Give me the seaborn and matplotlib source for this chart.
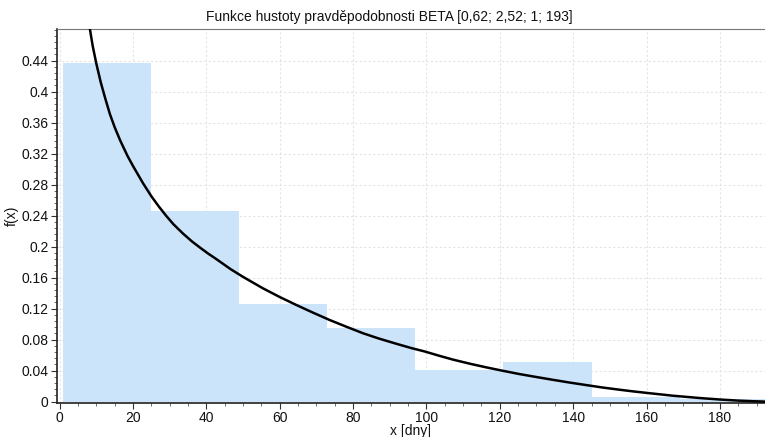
import numpy as np
import pandas as pd
import matplotlib
matplotlib.use("Agg")
import matplotlib.pyplot as plt
from matplotlib.ticker import FixedLocator, MultipleLocator
import seaborn as sns

# ---- data ----
bin_edges = [1, 25, 49, 73, 97, 121, 145, 169, 193]
bar_heights = [0.4366, 0.246, 0.1257, 0.0955, 0.0409, 0.0508, 0.0057, 0.0035]

curve_x = [8.2, 9.0, 10.0, 11.2, 12.5, 13.7, 15.0, 16.5, 18.5, 20.0, 22.7, 25.0,
           27.0, 29.0, 31.0, 33.6, 36.0, 38.2, 40.5, 42.7, 46.6, 50.0, 55.4,
           60.0, 64.5, 69.0, 73.6, 78.0, 82.7, 87.0, 91.8, 96.0, 99.5, 103.5,
           107.3, 112.0, 116.4, 121.0, 125.4, 130.0, 134.5, 139.0, 143.6, 148.0,
           152.7, 156.5, 160.9, 167.0, 174.5, 180.0, 185.0, 189.0, 193.0]
curve_y = [0.482, 0.459, 0.436, 0.412, 0.390, 0.371, 0.354, 0.337, 0.317, 0.304,
           0.282, 0.265, 0.252, 0.240, 0.229, 0.217, 0.207, 0.199, 0.191, 0.184,
           0.171, 0.161, 0.1463, 0.135, 0.1248, 0.115, 0.1054, 0.097, 0.0883,
           0.0815, 0.0747, 0.069, 0.0648, 0.0592, 0.0542, 0.0488, 0.0442, 0.0397,
           0.0356, 0.0318, 0.0282, 0.0247, 0.0214, 0.0183, 0.0154, 0.0132,
           0.0109, 0.0078, 0.0047, 0.0028, 0.0014, 0.0006, 0.0]

x_ticks = [0, 20, 40, 60, 80, 100, 120, 140, 160, 180]
y_ticks = [0, 0.04, 0.08, 0.12, 0.16, 0.2, 0.24, 0.28, 0.32, 0.36, 0.4, 0.44]
y_tick_labels = ["0", "0.04", "0.08", "0.12", "0.16", "0.2", "0.24", "0.28",
                 "0.32", "0.36", "0.4", "0.44"]

title = "Funkce hustoty pravděpodobnosti BETA [0,62; 2,52; 1; 193]"
xlabel = "x [dny]"
ylabel = "f(x)"

# ---- plotting ----
sns.set_theme(style="white")
plt.rcParams["font.family"] = ["Liberation Sans", "DejaVu Sans"]

fig = plt.figure(figsize=(7.65, 4.37), dpi=100)
ax = fig.add_axes([0.0745, 0.0785, 0.9255, 0.855])

centers = [(a + b) / 2 for a, b in zip(bin_edges[:-1], bin_edges[1:])]
hist_df = pd.DataFrame({"x": centers, "w": bar_heights})
sns.histplot(data=hist_df, x="x", weights="w", bins=bin_edges, stat="count",
             color="#CCE4FA", alpha=1.0, linewidth=0, edgecolor="none", ax=ax,
             zorder=2)

curve_df = pd.DataFrame({"x": curve_x, "y": curve_y})
sns.lineplot(data=curve_df, x="x", y="y", color="black", linewidth=1.8, ax=ax,
             zorder=3)

ax.set_xlim(-0.73, 192.3)
ax.set_ylim(-0.0013, 0.4807)

ax.xaxis.set_major_locator(FixedLocator(x_ticks))
ax.yaxis.set_major_locator(FixedLocator(y_ticks))
ax.set_yticklabels(y_tick_labels)
ax.xaxis.set_minor_locator(MultipleLocator(5))
ax.yaxis.set_minor_locator(MultipleLocator(0.008))

ax.tick_params(axis="both", which="major", direction="out", length=4, width=0.8,
               color="#333333", labelsize=10, labelcolor="#111111", pad=2,
               bottom=True, left=True)
ax.tick_params(axis="both", which="minor", direction="out", length=2, width=0.6,
               color="#555555", bottom=True, left=True)

ax.grid(True, which="major", linestyle=(0, (2, 2)), color="#E4E4E4", linewidth=0.8)
ax.set_axisbelow(True)

for s in ["left", "bottom"]:
    ax.spines[s].set_color("#222222")
    ax.spines[s].set_linewidth(1.2)
ax.spines["top"].set_color("#777777")
ax.spines["top"].set_linewidth(0.8)
ax.spines["right"].set_visible(False)

ax.set_xlabel(xlabel, fontsize=10, labelpad=-1, color="#111111")
ax.set_ylabel(ylabel, fontsize=10, labelpad=2, color="#111111")
ax.set_title(title, fontsize=10, pad=6, color="#111111", x=0.47)

fig.savefig("out.png", dpi=100)
